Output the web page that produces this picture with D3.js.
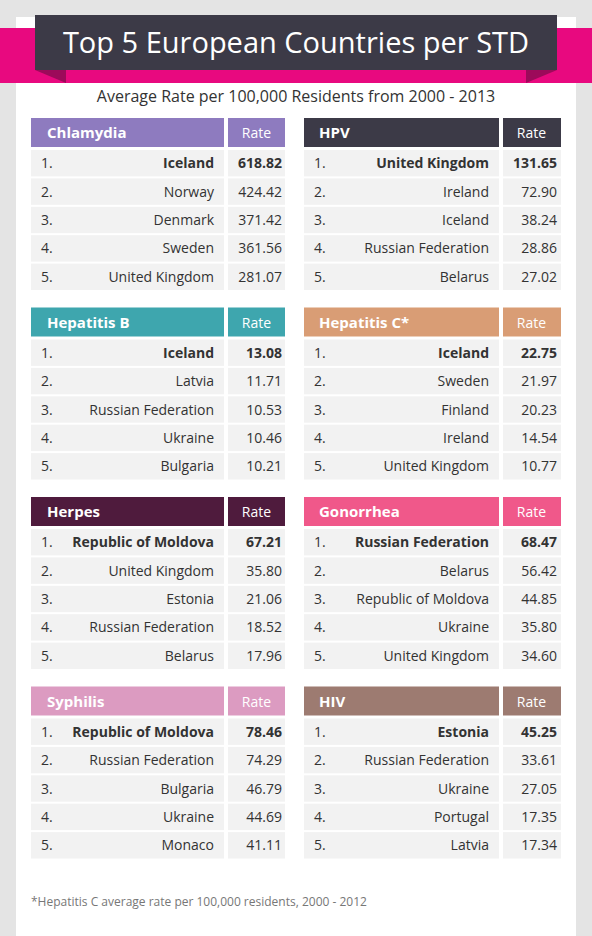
<!DOCTYPE html>
<html><head><meta charset="utf-8">
<script src="https://cdn.jsdelivr.net/npm/d3@7"></script>
<style>body{margin:0;background:#e4e4e4;} text{font-family:"Open Sans",sans-serif;}</style>
</head><body>
<script>
var diseases = ["Chlamydia", "HPV", "Hepatitis B", "Hepatitis C*", "Herpes", "Gonorrhea", "Syphilis", "HIV"];
var colors = ["#8e7bbf", "#3c3a47", "#3ea6ae", "#d99d75", "#4f1b3d", "#f0588a", "#dc9bc1", "#9d7b71"];
var countries = [
  ["Iceland", "Norway", "Denmark", "Sweden", "United Kingdom"],
  ["United Kingdom", "Ireland", "Iceland", "Russian Federation", "Belarus"],
  ["Iceland", "Latvia", "Russian Federation", "Ukraine", "Bulgaria"],
  ["Iceland", "Sweden", "Finland", "Ireland", "United Kingdom"],
  ["Republic of Moldova", "United Kingdom", "Estonia", "Russian Federation", "Belarus"],
  ["Russian Federation", "Belarus", "Republic of Moldova", "Ukraine", "United Kingdom"],
  ["Republic of Moldova", "Russian Federation", "Bulgaria", "Ukraine", "Monaco"],
  ["Estonia", "Russian Federation", "Ukraine", "Portugal", "Latvia"]
];
var rates = [
  [618.82, 424.42, 371.42, 361.56, 281.07],
  [131.65, 72.90, 38.24, 28.86, 27.02],
  [13.08, 11.71, 10.53, 10.46, 10.21],
  [22.75, 21.97, 20.23, 14.54, 10.77],
  [67.21, 35.80, 21.06, 18.52, 17.96],
  [68.47, 56.42, 44.85, 35.80, 34.60],
  [78.46, 74.29, 46.79, 44.69, 41.11],
  [45.25, 33.61, 27.05, 17.35, 17.34]
];
var ranks = ["1.", "2.", "3.", "4.", "5."];

var W = 592, H = 936;
var svg = d3.select("body").append("svg").attr("width", W).attr("height", H);

svg.append("rect").attr("x", 0).attr("y", 0).attr("width", W).attr("height", H).attr("fill", "#e4e4e4");
svg.append("rect").attr("x", 16).attr("y", 17).attr("width", 560).attr("height", H).attr("fill", "#fff");
//розовая лента и баннер
svg.append("rect").attr("x", 0).attr("y", 28).attr("width", W).attr("height", 55).attr("fill", "#e8097f");
svg.append("path").attr("d", "M35 70 L66 70 L66 83 Z").attr("fill", "#9c0a5a");
svg.append("path").attr("d", "M557 70 L526 70 L526 83 Z").attr("fill", "#9c0a5a");
svg.append("rect").attr("x", 35).attr("y", 15).attr("width", 522).attr("height", 55).attr("fill", "#3c3a47");
svg.append("text").attr("x", W/2).attr("y", 53).attr("text-anchor", "middle")
  .attr("fill", "#fff").attr("font-size", 29).text("Top 5 European Countries per STD");
svg.append("text").attr("x", W/2).attr("y", 102).attr("text-anchor", "middle")
  .attr("fill", "#333").attr("font-size", 16).text("Average Rate per 100,000 Residents from 2000 - 2013");

var colX = [31, 304];
var nameW = [193, 195];
var rateW = 61;
var blockY = d3.scaleLinear().domain([0, 1]).range([118, 307.5]);
var rowY = d3.scaleBand().domain(d3.range(5)).range([150, 290]).paddingInner(0.07);

diseases.forEach(function(d, i) {
  var col = i % 2, x = colX[col], nw = nameW[col];
  var g = svg.append("g").attr("transform", "translate(" + x + "," + blockY(Math.floor(i/2)) + ")");
  g.append("rect").attr("width", nw).attr("height", 29).attr("fill", colors[i]);
  g.append("rect").attr("x", nw + 4).attr("width", rateW - 4 + (col ? 1 : 0)).attr("height", 29).attr("fill", colors[i]);
  g.append("text").attr("x", col ? 15 : 16).attr("y", 20).attr("fill", "#fff")
    .attr("font-size", 15).attr("font-weight", "bold").text(d);
  g.append("text").attr("x", nw + 4 + (rateW - 4)/2).attr("y", 20).attr("fill", "#fff")
    .attr("text-anchor", "middle").attr("font-size", 14).text("Rate");
  countries[i].forEach(function(c, j) {
    var y = rowY(j) - 118, h = rowY.bandwidth(), b = j == 0 ? "bold" : "normal";
    g.append("rect").attr("y", y).attr("width", nw).attr("height", h).attr("fill", "#f2f2f2");
    g.append("rect").attr("x", nw + 4).attr("y", y).attr("width", rateW - 4 + (col ? 1 : 0)).attr("height", h).attr("fill", "#f2f2f2");
    g.append("text").attr("x", 10).attr("y", y + h/2 + 5).attr("font-size", 14).attr("fill", "#333").text(ranks[j]);
    g.append("text").attr("x", nw - 10).attr("y", y + h/2 + 5).attr("text-anchor", "end")
      .attr("font-size", 14).attr("font-weight", b).attr("fill", "#333").text(c);
    g.append("text").attr("x", nw + rateW - 3).attr("y", y + h/2 + 5).attr("text-anchor", "end")
      .attr("font-size", 14).attr("font-weight", b).attr("fill", "#333").text(rates[i][j].toFixed(2));
  });
});

svg.append("text").attr("x", 31).attr("y", 906).attr("fill", "#777").attr("font-size", 12)
  .text("*Hepatitis C average rate per 100,000 residents, 2000 - 2012");
</script>
</body></html>
